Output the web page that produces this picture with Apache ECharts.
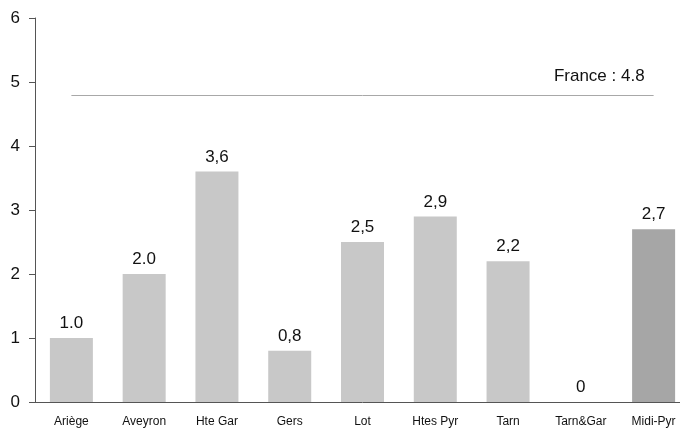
<!DOCTYPE html>
<html>
<head>
<meta charset="utf-8">
<script src="https://cdn.jsdelivr.net/npm/echarts@6/dist/echarts.min.js"></script>
<style>
  html, body { margin: 0; padding: 0; background: #fff; overflow: hidden; }
  #wrap { width: 680px; height: 428px; overflow: hidden; }
  /* the plot runs past the right edge of the page, so the container is a bit wider */
  #chart { width: 690px; height: 428px; }
</style>
</head>
<body>
<div id="wrap"><div id="chart"></div></div>
<script>
// Départements of Midi-Pyrénées and the regional total
const categories = ['Ariège', 'Aveyron', 'Hte Gar', 'Gers', 'Lot', 'Htes Pyr', 'Tarn', 'Tarn&Gar', 'Midi-Pyr'];
const values = [1.0, 2.0, 3.6, 0.8, 2.5, 2.9, 2.2, 0, 2.7];
const valueLabels = ['1.0', '2.0', '3,6', '0,8', '2,5', '2,9', '2,2', '0', '2,7'];
const franceValue = 4.8;
const franceLabel = 'France : 4.8';
const yTicks = [0, 1, 2, 3, 4, 5, 6];

const FONT = '"Liberation Sans", Arial, sans-serif';
const barColor = '#c8c8c8';
const totalColor = '#a6a6a6';

const chart = echarts.init(document.getElementById('chart'), null, { renderer: 'canvas' });

chart.setOption({
  animation: false,
  backgroundColor: '#ffffff',
  textStyle: { fontFamily: FONT },
  grid: { left: 35, top: 18, right: 0, height: 384, containLabel: false },
  xAxis: {
    type: 'category',
    data: categories,
    boundaryGap: true,
    axisLine: { show: true, lineStyle: { color: '#555555', width: 1 } },
    axisTick: { show: false },
    axisLabel: { color: '#111111', fontSize: 12, fontFamily: FONT, margin: 14, interval: 0 },
    splitLine: { show: false }
  },
  yAxis: {
    type: 'value',
    min: yTicks[0],
    max: yTicks[yTicks.length - 1],
    interval: 1,
    axisLine: { show: true, lineStyle: { color: '#555555', width: 1 } },
    axisTick: { show: true, length: 6, lineStyle: { color: '#555555' } },
    axisLabel: { color: '#111111', fontSize: 17, fontFamily: FONT, margin: 15 },
    splitLine: { show: false }
  },
  series: [{
    type: 'bar',
    barWidth: 43,
    data: values.map((v, i) => ({
      value: v,
      itemStyle: { color: i === values.length - 1 ? totalColor : barColor }
    })),
    label: {
      show: true,
      position: 'top',
      distance: 6,
      color: '#111111',
      fontSize: 17,
      fontFamily: FONT,
      formatter: p => valueLabels[p.dataIndex]
    },
    markLine: {
      silent: true,
      symbol: ['none', 'none'],
      lineStyle: { color: '#a8a8a8', width: 1, type: 'solid' },
      label: {
        show: true,
        position: 'insideEndTop',
        distance: [9, 10],
        color: '#111111',
        fontSize: 17,
        fontFamily: FONT,
        formatter: franceLabel
      },
      data: [[
        { xAxis: categories[0], yAxis: franceValue },
        { xAxis: categories[categories.length - 1], yAxis: franceValue }
      ]]
    }
  }]
});
</script>
</body>
</html>
